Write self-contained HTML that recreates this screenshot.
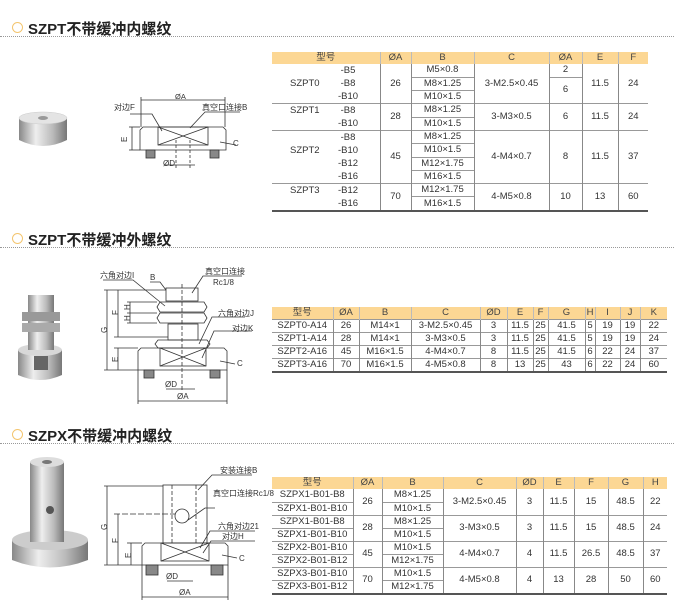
<!DOCTYPE html>
<html><head><meta charset="utf-8"><style>
body{margin:0;width:674px;height:608px;background:#fff;position:relative;overflow:hidden;font-family:"Liberation Sans","Noto Sans CJK SC",sans-serif;color:#333}
.t{position:absolute;left:28px;font-weight:bold;font-size:15px;color:#222;font-family:"Liberation Sans","Noto Sans CJK SC",sans-serif}
.c{position:absolute;left:12px;width:9px;height:9px;border:1.5px solid #f3c56f;border-radius:50%}
.d{position:absolute;left:0;width:674px;border-top:1.5px dotted #999}
table{position:absolute;border-collapse:collapse;table-layout:fixed;font-size:9.5px;color:#333}
td{text-align:center;padding:0;line-height:12px;white-space:nowrap;overflow:hidden;border-left:1px solid #888;border-right:1px solid #888}
tr.h td{background:#fcd794;color:#444;border-color:#bbb}
td:first-child{border-left:none}td:last-child{border-right:none}
.bt td{border-top:1px solid #999}
.bs{border-top:1px solid #999}
td.m{text-align:left}
.l{padding-left:18px;line-height:13px;height:13px}
.n{display:inline-block;width:48px}
svg{position:absolute;left:0;top:0}
</style></head><body>
<div class="c" style="top:22px"></div><div class="t" style="top:18px">SZPT不带缓冲内螺纹</div><div class="d" style="top:36px"></div>
<div class="c" style="top:233px"></div><div class="t" style="top:229px">SZPT不带缓冲外螺纹</div><div class="d" style="top:247px"></div>
<div class="c" style="top:429px"></div><div class="t" style="top:425px">SZPX不带缓冲内螺纹</div><div class="d" style="top:443px"></div>

<table style="left:272px;top:52px;width:376px;border-bottom:2px solid #555">
<colgroup><col style="width:108px"><col style="width:31px"><col style="width:63px"><col style="width:75px"><col style="width:33px"><col style="width:36px"><col style="width:30px"></colgroup>
<tr class="h"><td>型号</td><td>ØA</td><td>B</td><td>C</td><td>ØA</td><td>E</td><td>F</td></tr>
<tr style="height:13px"><td rowspan="3" class="m"><div class="l"><span class="n"></span>&nbsp;-B5</div><div class="l"><span class="n">SZPT0</span>&nbsp;-B8</div><div class="l"><span class="n"></span>-B10</div></td><td rowspan="3">26</td><td>M5×0.8</td><td rowspan="3">3-M2.5×0.45</td><td>2</td><td rowspan="3">11.5</td><td rowspan="3">24</td></tr>
<tr style="height:13px"><td class="bs">M8×1.25</td><td rowspan="2" class="bs">6</td></tr>
<tr style="height:13px"><td class="bs">M10×1.5</td></tr>
<tr class="bt" style="height:13px"><td rowspan="2" class="m"><div class="l"><span class="n">SZPT1</span>&nbsp;-B8</div><div class="l"><span class="n"></span>-B10</div></td><td rowspan="2">28</td><td>M8×1.25</td><td rowspan="2">3-M3×0.5</td><td rowspan="2">6</td><td rowspan="2">11.5</td><td rowspan="2">24</td></tr>
<tr style="height:13px"><td class="bs">M10×1.5</td></tr>
<tr class="bt" style="height:13px"><td rowspan="4" class="m"><div class="l"><span class="n"></span>&nbsp;-B8</div><div class="l"><span class="n">SZPT2</span>-B10</div><div class="l"><span class="n"></span>-B12</div><div class="l"><span class="n"></span>-B16</div></td><td rowspan="4">45</td><td>M8×1.25</td><td rowspan="4">4-M4×0.7</td><td rowspan="4">8</td><td rowspan="4">11.5</td><td rowspan="4">37</td></tr>
<tr style="height:13px"><td class="bs">M10×1.5</td></tr>
<tr style="height:13px"><td class="bs">M12×1.75</td></tr>
<tr style="height:13px"><td class="bs">M16×1.5</td></tr>
<tr class="bt" style="height:13px"><td rowspan="2" class="m"><div class="l"><span class="n">SZPT3</span>-B12</div><div class="l"><span class="n"></span>-B16</div></td><td rowspan="2">70</td><td>M12×1.75</td><td rowspan="2">4-M5×0.8</td><td rowspan="2">10</td><td rowspan="2">13</td><td rowspan="2">60</td></tr>
<tr style="height:13px"><td class="bs">M16×1.5</td></tr>
</table>

<table style="left:272px;top:307px;width:395px;border-bottom:2px solid #555">
<colgroup><col style="width:61px"><col style="width:26px"><col style="width:52px"><col style="width:69px"><col style="width:27px"><col style="width:26px"><col style="width:15px"><col style="width:37px"><col style="width:10px"><col style="width:25px"><col style="width:20px"><col style="width:27px"></colgroup>
<tr class="h"><td>型号</td><td>ØA</td><td>B</td><td>C</td><td>ØD</td><td>E</td><td>F</td><td>G</td><td>H</td><td>I</td><td>J</td><td>K</td></tr>
<tr class="bt" style="height:12.5px"><td>SZPT0-A14</td><td>26</td><td>M14×1</td><td>3-M2.5×0.45</td><td>3</td><td>11.5</td><td>25</td><td>41.5</td><td>5</td><td>19</td><td>19</td><td>22</td></tr>
<tr class="bt" style="height:12.5px"><td>SZPT1-A14</td><td>28</td><td>M14×1</td><td>3-M3×0.5</td><td>3</td><td>11.5</td><td>25</td><td>41.5</td><td>5</td><td>19</td><td>19</td><td>24</td></tr>
<tr class="bt" style="height:12.5px"><td>SZPT2-A16</td><td>45</td><td>M16×1.5</td><td>4-M4×0.7</td><td>8</td><td>11.5</td><td>25</td><td>41.5</td><td>6</td><td>22</td><td>24</td><td>37</td></tr>
<tr class="bt" style="height:12.5px"><td>SZPT3-A16</td><td>70</td><td>M16×1.5</td><td>4-M5×0.8</td><td>8</td><td>13</td><td>25</td><td>43</td><td>6</td><td>22</td><td>24</td><td>60</td></tr>
</table>

<table style="left:272px;top:477px;width:395px;border-bottom:2px solid #555">
<colgroup><col style="width:81px"><col style="width:29px"><col style="width:61px"><col style="width:73px"><col style="width:27px"><col style="width:31px"><col style="width:34px"><col style="width:35px"><col style="width:24px"></colgroup>
<tr class="h"><td>型号</td><td>ØA</td><td>B</td><td>C</td><td>ØD</td><td>E</td><td>F</td><td>G</td><td>H</td></tr>
<tr style="height:13px"><td>SZPX1-B01-B8</td><td rowspan="2">26</td><td>M8×1.25</td><td rowspan="2">3-M2.5×0.45</td><td rowspan="2">3</td><td rowspan="2">11.5</td><td rowspan="2">15</td><td rowspan="2">48.5</td><td rowspan="2">22</td></tr>
<tr style="height:13px"><td class="bs">SZPX1-B01-B10</td><td class="bs">M10×1.5</td></tr>
<tr class="bt" style="height:13px"><td>SZPX1-B01-B8</td><td rowspan="2">28</td><td>M8×1.25</td><td rowspan="2">3-M3×0.5</td><td rowspan="2">3</td><td rowspan="2">11.5</td><td rowspan="2">15</td><td rowspan="2">48.5</td><td rowspan="2">24</td></tr>
<tr style="height:13px"><td class="bs">SZPX1-B01-B10</td><td class="bs">M10×1.5</td></tr>
<tr class="bt" style="height:13px"><td>SZPX2-B01-B10</td><td rowspan="2">45</td><td>M10×1.5</td><td rowspan="2">4-M4×0.7</td><td rowspan="2">4</td><td rowspan="2">11.5</td><td rowspan="2">26.5</td><td rowspan="2">48.5</td><td rowspan="2">37</td></tr>
<tr style="height:13px"><td class="bs">SZPX2-B01-B12</td><td class="bs">M12×1.75</td></tr>
<tr class="bt" style="height:13px"><td>SZPX3-B01-B10</td><td rowspan="2">70</td><td>M10×1.5</td><td rowspan="2">4-M5×0.8</td><td rowspan="2">4</td><td rowspan="2">13</td><td rowspan="2">28</td><td rowspan="2">50</td><td rowspan="2">60</td></tr>
<tr style="height:13px"><td class="bs">SZPX3-B01-B12</td><td class="bs">M12×1.75</td></tr>
</table>

<svg width="674" height="608" viewBox="0 0 674 608" font-family="Liberation Sans,Noto Sans CJK SC,sans-serif" font-size="7" fill="#333">
<defs>
<linearGradient id="g" x1="0" x2="1"><stop offset="0" stop-color="#888"/><stop offset=".35" stop-color="#eee"/><stop offset=".7" stop-color="#bbb"/><stop offset="1" stop-color="#777"/></linearGradient>
</defs>
<ellipse cx="43" cy="118" rx="24" ry="6" fill="#ddd"/>
<path d="M19 118 L19 140 Q43 152 67 140 L67 118 Z" fill="url(#g)"/>
<ellipse cx="43" cy="118" rx="24" ry="6" fill="#e4e4e4" stroke="#ccc" stroke-width=".5"/>
<ellipse cx="43" cy="118" rx="5" ry="2" fill="#999"/>

<path d="M18 350 L18 375 Q40 385 62 375 L62 350 Z" fill="url(#g)"/>
<ellipse cx="40" cy="350" rx="22" ry="6" fill="#d8d8d8"/>
<rect x="28" y="295" width="26" height="55" fill="url(#g)"/>
<rect x="22" y="312" width="38" height="9" fill="#999"/><rect x="22" y="323" width="38" height="9" fill="#aaa"/>
<rect x="34" y="356" width="14" height="14" fill="#666"/>

<path d="M12 540 L12 560 Q50 575 88 560 L88 540 Z" fill="url(#g)"/>
<ellipse cx="50" cy="540" rx="38" ry="10" fill="#ccc"/>
<rect x="30" y="462" width="34" height="80" fill="url(#g)"/>
<ellipse cx="47" cy="462" rx="17" ry="5" fill="#ddd"/><ellipse cx="47" cy="462" rx="5" ry="2" fill="#777"/>
<circle cx="50" cy="510" r="4" fill="#555"/>

<g stroke="#333" stroke-width=".8" fill="none">
<line x1="141" y1="100" x2="225" y2="100"/><line x1="141" y1="97" x2="141" y2="127"/><line x1="225" y1="97" x2="225" y2="127"/>
<path d="M140 150 L140 130 L143 127 L223 127 L226 130 L226 150 Z"/>
<rect x="158" y="127" width="50" height="18"/><path d="M158 127 L208 145 M208 127 L158 145"/>
<rect x="146" y="150" width="9" height="8" fill="#888"/><rect x="210" y="150" width="9" height="8" fill="#888"/>
<line x1="132" y1="127" x2="132" y2="150"/><line x1="129" y1="127" x2="140" y2="127"/><line x1="129" y1="150" x2="140" y2="150"/>
<line x1="176" y1="140" x2="176" y2="168" stroke-dasharray="3 2"/><line x1="190" y1="140" x2="190" y2="168" stroke-dasharray="3 2"/>
<line x1="165" y1="165" x2="195" y2="165"/>
<path d="M130 114 L152 114 L162 131 M240 112 L205 112 L190 128 M236 145 L220 142"/>
<rect x="166" y="288" width="32" height="13"/>
<path d="M157 307 L160 302 L204 302 L207 307 L204 312 L160 312 Z"/>
<path d="M157 318 L160 313 L204 313 L207 318 L204 323 L160 323 Z"/>
<rect x="168" y="324" width="30" height="16"/>
<path d="M155 344 L158 340 L207 340 L210 344 L207 348 L158 348 Z"/>
<path d="M138 370 L138 351 L141 348 L224 348 L227 351 L227 370 Z"/>
<rect x="160" y="348" width="46" height="18"/><path d="M160 348 L206 366 M206 348 L160 366"/>
<rect x="144" y="370" width="10" height="8" fill="#888"/><rect x="210" y="370" width="10" height="8" fill="#888"/>
<line x1="182" y1="284" x2="182" y2="392" stroke-dasharray="4 2"/>
<line x1="107" y1="290" x2="107" y2="370"/><line x1="104" y1="290" x2="166" y2="290"/><line x1="104" y1="370" x2="138" y2="370"/>
<line x1="118" y1="290" x2="118" y2="337"/><line x1="114" y1="337" x2="168" y2="337"/>
<line x1="130" y1="302" x2="130" y2="323"/><line x1="127" y1="302" x2="157" y2="302"/><line x1="127" y1="313" x2="157" y2="313"/><line x1="127" y1="323" x2="157" y2="323"/>
<line x1="118" y1="348" x2="118" y2="370"/><line x1="114" y1="348" x2="138" y2="348"/>
<line x1="138" y1="370" x2="138" y2="404"/><line x1="227" y1="370" x2="227" y2="404"/><line x1="138" y1="401" x2="227" y2="401"/>
<line x1="166" y1="389" x2="195" y2="389"/>
<path d="M103 280 L133 280 L165 306 M150 282 L160 282 L166 290 M242 276 L203 276 L192 293 M245 317 L212 317 L199 344 M252 331 L214 331 L202 358 M235 364 L220 361"/>
<rect x="163" y="485" width="44" height="58"/>
<circle cx="182" cy="516" r="7"/>
<line x1="172" y1="485" x2="172" y2="543" stroke-dasharray="4 2"/><line x1="196" y1="485" x2="196" y2="543" stroke-dasharray="4 2"/>
<path d="M142 565 L142 546 L145 543 L225 543 L228 546 L228 565 Z"/>
<rect x="161" y="543" width="48" height="18"/><path d="M161 543 L209 561 M209 543 L161 561"/>
<rect x="146" y="565" width="12" height="10" fill="#888"/><rect x="211" y="565" width="12" height="10" fill="#888"/>
<line x1="107" y1="486" x2="107" y2="565"/><line x1="104" y1="486" x2="163" y2="486"/><line x1="104" y1="565" x2="142" y2="565"/>
<line x1="118" y1="514" x2="118" y2="565"/><line x1="114" y1="514" x2="175" y2="514" stroke-dasharray="6 2"/>
<line x1="131" y1="543" x2="131" y2="565"/><line x1="127" y1="543" x2="142" y2="543"/>
<line x1="142" y1="565" x2="142" y2="600"/><line x1="228" y1="565" x2="228" y2="600"/><line x1="142" y1="597" x2="228" y2="597"/>
<line x1="167" y1="581" x2="193" y2="581"/>
<path d="M252 475 L212 475 L198 490 M215 508 L205 508 L188 520 M255 531 L210 531 L200 548 M255 541 L211 541 L203 553 M237 558 L222 555"/>
</g>
<g font-size="8">
<text x="175" y="99" font-size="7.5">ØA</text><text x="114" y="110">对边F</text><text x="202" y="110">真空口连接B</text><text x="233" y="146">C</text><text x="163" y="166">ØD</text>
<text x="121" y="142" transform="rotate(-90 124 139)">E</text>
<text x="100" y="278">六角对边I</text><text x="150" y="280">B</text><text x="205" y="274">真空口连接</text><text x="213" y="285">Rc1/8</text>
<text x="218" y="316">六角对边J</text><text x="232" y="331">对边K</text><text x="237" y="366">C</text><text x="165" y="387">ØD</text><text x="177" y="399">ØA</text>
<text x="101" y="333" transform="rotate(-90 104 330)">G</text><text x="112" y="315" transform="rotate(-90 115 312)">F</text><text x="124" y="310" transform="rotate(-90 127 307)">H</text><text x="124" y="321" transform="rotate(-90 127 318)">H</text><text x="112" y="362" transform="rotate(-90 115 359)">E</text>
<text x="220" y="473">安装连接B</text><text x="213" y="496">真空口连接Rc1/8</text><text x="218" y="529">六角对边21</text><text x="222" y="539">对边H</text><text x="239" y="561">C</text><text x="166" y="579">ØD</text><text x="179" y="595">ØA</text>
<text x="101" y="530" transform="rotate(-90 104 527)">G</text><text x="112" y="543" transform="rotate(-90 115 540)">F</text><text x="125" y="558" transform="rotate(-90 128 555)">E</text>
</g>
</svg>
</body></html>
